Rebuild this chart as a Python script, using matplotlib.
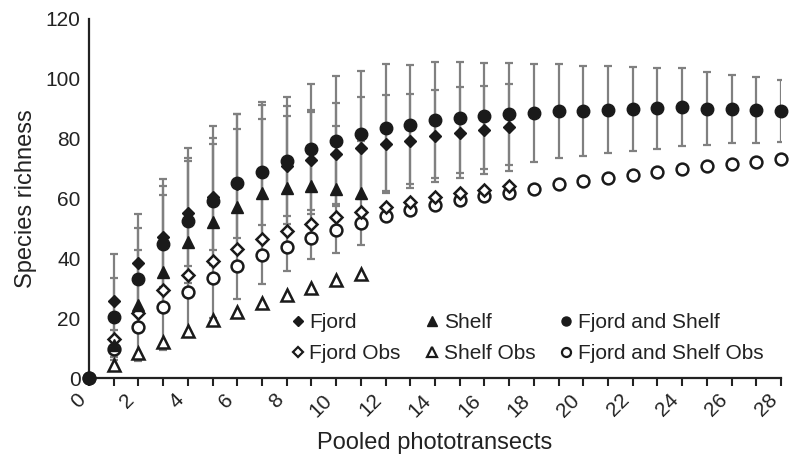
import matplotlib
matplotlib.use("Agg")
import matplotlib.pyplot as plt
import numpy as np
from matplotlib.lines import Line2D

plt.rcParams['font.family'] = ['Liberation Sans', 'DejaVu Sans']

# ---- data ----
x_fjord = list(range(1, 18))
fjord = [25.9, 38.6, 47.3, 55.1, 60.4, 65.0, 68.8, 71.0, 72.9, 74.9, 77.0, 78.2, 79.3, 80.9, 82.0, 82.9, 83.8]
fjord_err = [15.6, 16.2, 17.0, 17.6, 17.7, 18.2, 17.8, 16.7, 16.7, 16.9, 17.0, 16.4, 15.7, 15.5, 15.3, 14.8, 14.5]
fjord_obs = [12.9, 21.6, 29.4, 34.5, 39.2, 43.1, 46.4, 49.2, 51.5, 53.7, 55.6, 57.3, 58.8, 60.5, 61.8, 63.0, 64.3]

x_shelf = list(range(1, 12))
shelf = [11.0, 24.3, 35.3, 45.6, 52.1, 57.3, 61.8, 63.4, 64.3, 63.1, 61.8]
shelf_err = [5.0, 18.5, 26.0, 31.2, 32.0, 31.0, 30.3, 27.6, 24.6, 21.2, 17.3]
shelf_obs = [4.3, 8.5, 12.1, 15.8, 19.4, 22.2, 25.2, 27.8, 30.2, 32.8, 34.8]

x_both = list(range(0, 29))
both = [0, 20.3, 33.2, 44.8, 52.6, 59.0, 65.1, 69.0, 72.7, 76.5, 79.3, 81.5, 83.7, 84.6, 86.3, 87.0,
        87.7, 88.2, 88.5, 89.3, 89.3, 89.7, 89.9, 90.2, 90.5, 90.0, 89.9, 89.6, 89.3]
both_err = [0, 13.2, 16.8, 21.6, 21.0, 21.1, 23.0, 22.2, 21.2, 21.7, 21.7, 21.2, 21.1, 19.9, 19.3, 18.6,
            17.7, 17.0, 16.4, 15.7, 15.1, 14.6, 13.9, 13.5, 13.1, 12.2, 11.5, 11.0, 10.4]
both_obs = [0, 9.6, 17.2, 23.6, 28.9, 33.5, 37.5, 41.1, 43.9, 46.9, 49.5, 51.7, 54.2, 56.0, 57.9, 59.4,
            60.8, 62.0, 63.2, 64.7, 65.9, 66.8, 68.0, 68.9, 69.8, 70.8, 71.6, 72.3, 73.1]

xtick_labels = [str(i) if i % 2 == 0 else '' for i in range(29)]

# ---- plot ----
fig = plt.figure(figsize=(7.89, 4.61), dpi=100)
ax = fig.add_axes([0.1128, 0.18, 0.877, 0.7788])

ecol = '#808080'
mk = '#1a1a1a'
txt = '#222222'
ekw = dict(fmt='none', ecolor=ecol, elinewidth=1.6, capsize=3.2, capthick=1.6, zorder=2)
ax.errorbar(x_shelf, shelf, yerr=shelf_err, **ekw)
ax.errorbar(x_fjord, fjord, yerr=fjord_err, **ekw)
ax.errorbar(x_both[1:], both[1:], yerr=both_err[1:], **ekw)

ax.plot(x_shelf, shelf_obs, ls='none', marker='^', ms=8.5, mfc='white', mec=mk, mew=1.8, zorder=3, clip_on=False)
ax.plot(x_both, both_obs, ls='none', marker='o', ms=8.5, mfc='white', mec=mk, mew=1.8, zorder=3, clip_on=False)
ax.plot(x_fjord, fjord_obs, ls='none', marker='D', ms=6.5, mfc='white', mec=mk, mew=1.8, zorder=3, clip_on=False)
ax.plot(x_shelf, shelf, ls='none', marker='^', ms=8.5, color=mk, zorder=4, clip_on=False)
ax.plot(x_both, both, ls='none', marker='o', ms=9, color=mk, zorder=4, clip_on=False)
ax.plot(x_fjord, fjord, ls='none', marker='D', ms=6.5, color=mk, zorder=5, clip_on=False)

ax.set_xlim(0, 28)
ax.set_ylim(0, 120)
ax.set_yticks(range(0, 121, 20))
ax.set_xticks(range(29))
ax.set_xticklabels(xtick_labels, rotation=45, ha='right', va='top')
ax.tick_params(axis='x', direction='out', length=6, width=1.5, labelsize=15, pad=3, colors=txt)
ax.tick_params(axis='y', length=0, labelsize=15, pad=6, colors=txt)

for s in ['top', 'right']:
    ax.spines[s].set_visible(False)
for s in ['left', 'bottom']:
    ax.spines[s].set_linewidth(1.6)
    ax.spines[s].set_color(txt)

ax.set_xlabel('Pooled phototransects', fontsize=17, color=txt, labelpad=8)
ax.set_ylabel('Species richness', fontsize=17, color=txt, labelpad=6)

handles = [
    Line2D([], [], ls='none', marker='D', ms=5, color=mk),
    Line2D([], [], ls='none', marker='D', ms=5, mfc='white', mec=mk, mew=1.6),
    Line2D([], [], ls='none', marker='^', ms=6.5, color=mk),
    Line2D([], [], ls='none', marker='^', ms=6.5, mfc='white', mec=mk, mew=1.6),
    Line2D([], [], ls='none', marker='o', ms=6.5, color=mk),
    Line2D([], [], ls='none', marker='o', ms=6.5, mfc='white', mec=mk, mew=1.6),
]
labels = ['Fjord', 'Fjord Obs', 'Shelf', 'Shelf Obs', 'Fjord and Shelf', 'Fjord and Shelf Obs']
leg = ax.legend(handles, labels, ncol=3, frameon=False, fontsize=15,
                loc='lower left', bbox_to_anchor=(0.278, 0.012),
                handlelength=0.6, handletextpad=0.25, columnspacing=1.2,
                labelspacing=0.6, borderpad=0)
for t in leg.get_texts():
    t.set_color(txt)

fig.savefig('out.png', dpi=100)
